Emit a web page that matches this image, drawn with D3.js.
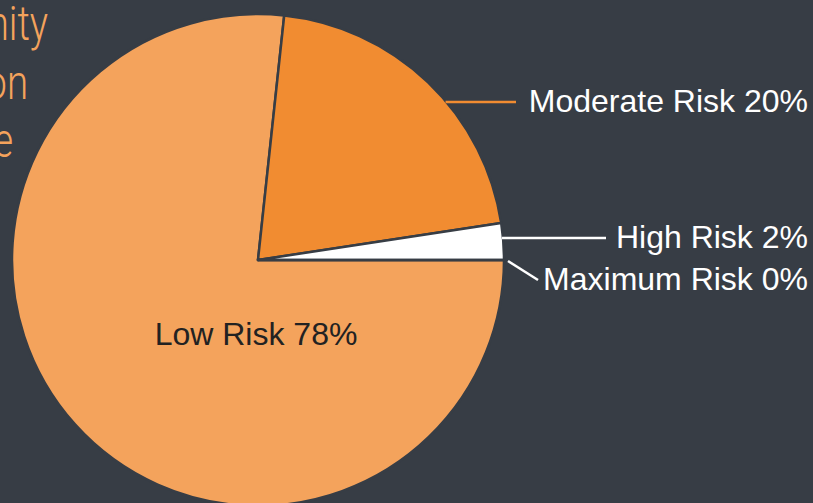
<!DOCTYPE html>
<html>
<head>
<meta charset="utf-8">
<script src="https://cdn.jsdelivr.net/npm/d3@7"></script>
<style>
  body { margin: 0; background: #373d45; }
  svg { display: block; }
  .lbl { font-family: "Liberation Sans", Arial, sans-serif; font-size: 32px; }
</style>
</head>
<body>
<svg id="chart" width="813" height="503"></svg>
<script>
// data
const categories = ["Low Risk", "Moderate Risk", "High Risk", "Maximum Risk"];
const shares = [76.7, 20.9, 2.4, 0];
const shareLabels = ["78%", "20%", "2%", "0%"];
const titleLines = ["Community", "Population", "Profile"];

const colours = ["#f4a35c", "#f18c31", "#ffffff", "#ffffff"];
const bg = "#373d45";

const svg = d3.select("#chart");
const cx = 258, cy = 260, radius = 246;

// title, mostly cut off at the left edge (narrow light face)
svg.append("g")
  .selectAll("text")
  .data(titleLines)
  .join("text")
  .attr("transform", (d, i) => `translate(${[48, 28, 13][i]},${40 + i * 58.5}) scale(0.8,1)`)
  .attr("text-anchor", "end")
  .attr("font-family", "Roboto, sans-serif")
  .attr("font-weight", 300)
  .attr("font-size", 48)
  .attr("fill", "#f4a35c")
  .text((d) => d);

const pie = d3.pie()
  .sort(null)
  .startAngle(Math.PI / 2)
  .endAngle(Math.PI / 2 + 2 * Math.PI)
  .value((d) => d);

const arc = d3.arc().innerRadius(0).outerRadius(radius);
const arcs = pie(shares);

const g = svg.append("g").attr("transform", `translate(${cx},${cy})`);

g.selectAll("path")
  .data(arcs)
  .join("path")
  .attr("d", arc)
  .attr("fill", (d, i) => colours[i])
  .attr("stroke", bg)
  .attr("stroke-width", 2.5)
  .attr("stroke-linejoin", "round");

// inside label for low risk
g.append("text")
  .attr("class", "lbl")
  .attr("x", -2)
  .attr("y", 85)
  .attr("text-anchor", "middle")
  .attr("fill", "#222")
  .text(`${categories[0]} ${shareLabels[0]}`);

// outside labels with leader lines
const edgeX = (y) => Math.sqrt(radius * radius - y * y);
const outside = [
  { i: 1, ly: 102 - cy, stroke: "#f18c31", x2: 516 - cx },
  { i: 2, ly: 238 - cy, stroke: "#ffffff", x2: 606 - cx },
];

outside.forEach((o) => {
  g.append("line")
    .attr("x1", edgeX(o.ly) - 1)
    .attr("y1", o.ly)
    .attr("x2", o.x2)
    .attr("y2", o.ly)
    .attr("stroke", o.stroke)
    .attr("stroke-width", 2.5);
  g.append("text")
    .attr("class", "lbl")
    .attr("x", 808 - cx)
    .attr("y", o.ly + 9.5)
    .attr("text-anchor", "end")
    .attr("fill", "#fff")
    .text(`${categories[o.i]} ${shareLabels[o.i]}`);
});

// maximum risk: zero slice, diagonal leader
const maxAngle = arcs[3].startAngle;
const mx = Math.sin(maxAngle) * (radius + 4);
const my = -Math.cos(maxAngle) * (radius + 4) + 1;
g.append("line")
  .attr("x1", mx)
  .attr("y1", my)
  .attr("x2", 538 - cx)
  .attr("y2", 280 - cy)
  .attr("stroke", "#fff")
  .attr("stroke-width", 2.5);
g.append("text")
  .attr("class", "lbl")
  .attr("x", 808 - cx)
  .attr("y", 290 - cy)
  .attr("text-anchor", "end")
  .attr("fill", "#fff")
  .text(`${categories[3]} ${shareLabels[3]}`);
</script>
</body>
</html>
